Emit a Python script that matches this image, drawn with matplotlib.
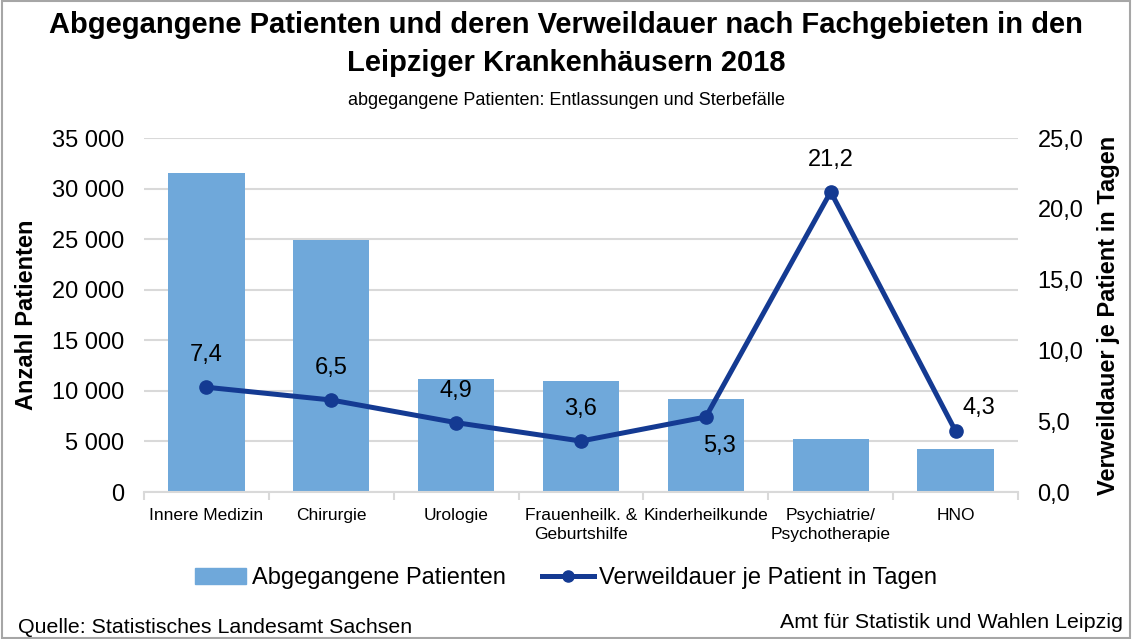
import matplotlib.pyplot as plt
from matplotlib.patches import Rectangle
from matplotlib.lines import Line2D
from matplotlib.patches import Patch
import numpy as np

plt.rcParams['font.family'] = ['Liberation Sans', 'DejaVu Sans']

# Daten
fachgebiete = ["Innere Medizin", "Chirurgie", "Urologie", "Frauenheilk. &\nGeburtshilfe",
               "Kinderheilkunde", "Psychiatrie/\nPsychotherapie", "HNO"]
patienten = [31500, 24900, 11200, 11000, 9200, 5250, 4250]
verweildauer = [7.4, 6.5, 4.9, 3.6, 5.3, 21.2, 4.3]

bar_color = "#6FA8DA"
line_color = "#143A92"
grid_color = "#D9D9D9"

fig = plt.figure(figsize=(11.32, 6.39), dpi=100)
ax = fig.add_axes([0.1272, 0.2300, 0.7721, 0.5540])
ax2 = ax.twinx()

x = np.arange(len(fachgebiete))
ax.bar(x, patienten, width=0.61, color=bar_color, zorder=2)
ax.set_xlim(-0.5, len(fachgebiete) - 0.5)
ax.set_ylim(0, 35000)
ax.set_yticks(range(0, 35001, 5000))
ax.set_yticklabels([f"{v:,}".replace(",", " ") for v in range(0, 35001, 5000)], fontsize=17)
ax.yaxis.grid(True, color=grid_color, linewidth=1.5, zorder=0)
ax.set_axisbelow(True)
ax.tick_params(axis="y", length=0, pad=14)
ax.set_xticks(x)
ax.set_xticklabels(fachgebiete, fontsize=12.5, linespacing=1.3)
ax.set_xticks(np.arange(-0.5, len(fachgebiete)), minor=True)
ax.tick_params(axis="x", which="major", length=0, pad=11.5)
ax.tick_params(axis="x", which="minor", length=6, color=grid_color, width=1.5)
for s in ["top", "right", "left"]:
    ax.spines[s].set_visible(False)
ax.spines["bottom"].set_color(grid_color)
ax.spines["bottom"].set_linewidth(1.5)
ax.set_ylabel("Anzahl Patienten", fontsize=17, fontweight="bold", labelpad=10)

ax2.plot(x, verweildauer, color=line_color, linewidth=3.6, marker="o", markersize=9.5, zorder=3)
ax2.set_ylim(0, 25)
ax2.set_yticks(range(0, 26, 5))
ax2.set_yticklabels([f"{v:.1f}".replace(".", ",") for v in range(0, 26, 5)], fontsize=17)
ax2.tick_params(axis="y", length=0, pad=14)
for s in ["top", "right", "left", "bottom"]:
    ax2.spines[s].set_visible(False)
ax2.set_ylabel("Verweildauer je Patient in Tagen", fontsize=17, fontweight="bold", labelpad=10)

# Datenbeschriftungen
offsets = [(0, 23), (0, 23), (0, 23), (0, 23), (10, -21), (0, 23), (17, 17)]
for xi, v, (dx, dy) in zip(x, verweildauer, offsets):
    ax2.annotate(f"{v:.1f}".replace(".", ","), (xi, v), xytext=(dx, dy),
                 textcoords="offset points", ha="center", va="center", fontsize=17)

# Titel
fig.text(0.5, 0.961, "Abgegangene Patienten und deren Verweildauer nach Fachgebieten in den",
         ha="center", va="center", fontsize=21, fontweight="bold")
fig.text(0.5, 0.902, "Leipziger Krankenhäusern 2018",
         ha="center", va="center", fontsize=21, fontweight="bold")
fig.text(0.5, 0.843, "abgegangene Patienten: Entlassungen und Sterbefälle",
         ha="center", va="center", fontsize=13)

# Legende
handles = [Patch(color=bar_color),
           Line2D([0], [0], color=line_color, linewidth=3.6, marker="o", markersize=8)]
fig.legend(handles, ["Abgegangene Patienten", "Verweildauer je Patient in Tagen"],
           loc="center", bbox_to_anchor=(0.5, 0.095), ncol=2, frameon=False,
           fontsize=17, handlelength=2.2, columnspacing=1.5, handletextpad=0.25)

# Fußzeile
fig.text(0.016, 0.018, "Quelle: Statistisches Landesamt Sachsen", ha="left", va="center",
         fontsize=15.4)
fig.text(0.992, 0.026, "Amt für Statistik und Wahlen Leipzig", ha="right", va="center",
         fontsize=15.4)

fig.patches.append(Rectangle((0.002, 0.002), 0.996, 0.996, transform=fig.transFigure,
                             fill=False, edgecolor="#A6A6A6", linewidth=1.5))

fig.savefig("out.png", dpi=100)
